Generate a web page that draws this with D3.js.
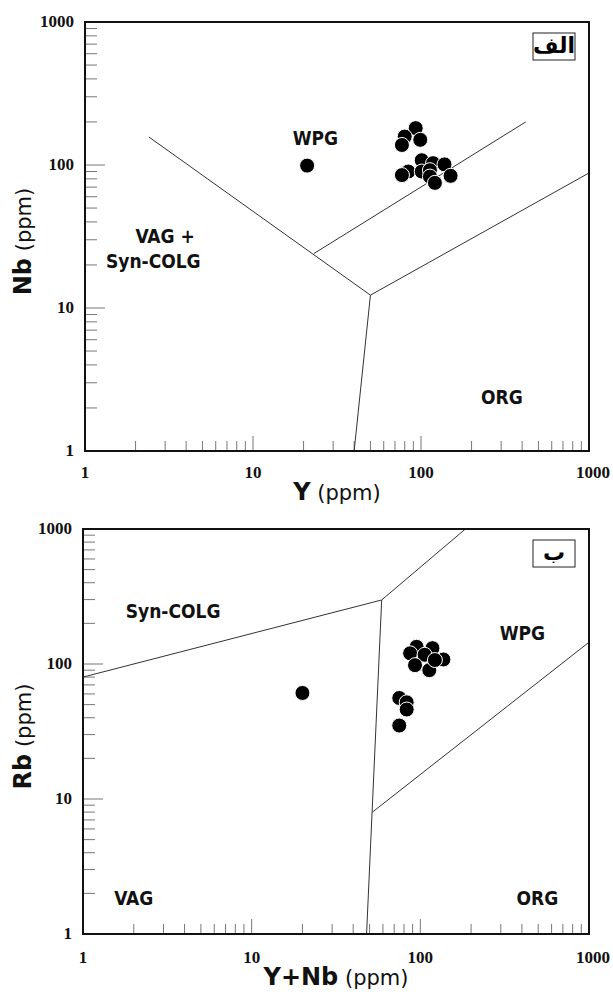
<!DOCTYPE html>
<html>
<head>
<meta charset="utf-8">
<script src="https://cdn.jsdelivr.net/npm/d3@7"></script>
<style>
  body { margin: 0; background: #fff; }
  svg { display: block; }
  .tick-label { font-family: "Liberation Serif", serif; font-weight: bold; font-size: 17px; fill: #111; }
  .field { font-family: "DejaVu Sans Condensed", "DejaVu Sans", sans-serif; font-weight: bold; font-size: 19px; fill: #111; }
  .title { font-family: "DejaVu Sans", sans-serif; fill: #111; }
</style>
</head>
<body>
<svg></svg>
<script>
// panel (a): Nb vs Y
let nbyPoints = [
  [21, 99], [93, 181], [80, 158], [99, 150], [77, 138],
  [101, 108], [118, 103], [138, 101], [84, 90], [77, 85],
  [101, 90], [113, 92], [113, 83], [121, 75], [150, 84]
];
let nbyLines = [
  [[2.4, 157], [50, 12.3], [40, 1]],
  [[50, 12.3], [1000, 88]],
  [[23, 24], [420, 200]]
];
let nbyFields = [
  { name: 'WPG', x: 23.5, y: 138 },
  { name: 'VAG +', x: 3.0, y: 28.5 },
  { name: 'Syn-COLG', x: 2.55, y: 19 },
  { name: 'ORG', x: 303, y: 2.13 }
];

// panel (b): Rb vs Y+Nb
let rbPoints = [
  [20, 61], [95, 134], [118, 131], [87, 120], [106, 117],
  [93, 98], [113, 90], [137, 108], [122, 107],
  [75, 56], [83, 52], [83, 46], [75, 35]
];
let rbLines = [
  [[1, 80], [59, 298], [185, 1000]],
  [[59, 298], [48, 1]],
  [[52, 8], [1000, 145]]
];
let rbFields = [
  { name: 'Syn-COLG', x: 3.42, y: 219 },
  { name: 'WPG', x: 403, y: 151 },
  { name: 'VAG', x: 2.0, y: 1.64 },
  { name: 'ORG', x: 494, y: 1.64 }
];

let tickValues = [1, 10, 100, 1000];

let w = 613;
let h = 996;
let svg = d3.select('svg').attr('width', w).attr('height', h);

let minorTicks = [];
[1, 10, 100].forEach(d => {
  for (let k = 2; k <= 9; k++) minorTicks.push(d * k);
});

let drawPanel = (cfg) => {
  let x = d3.scaleLog().domain([1, 1000]).range([cfg.left, cfg.right]);
  let y = d3.scaleLog().domain([1, 1000]).range([cfg.bottom, cfg.top]);
  let g = svg.append('g');

  // inner ticks
  g.selectAll('.xminor').data(minorTicks).enter().append('line')
   .attr('x1', d => x(d)).attr('x2', d => x(d))
   .attr('y1', cfg.bottom).attr('y2', cfg.bottom - 10)
   .attr('stroke', '#777').attr('stroke-width', 1);
  g.selectAll('.xmajor').data([10, 100]).enter().append('line')
   .attr('x1', d => x(d)).attr('x2', d => x(d))
   .attr('y1', cfg.bottom).attr('y2', cfg.bottom - 15)
   .attr('stroke', '#777').attr('stroke-width', 1);
  g.selectAll('.yminor').data(minorTicks).enter().append('line')
   .attr('y1', d => y(d)).attr('y2', d => y(d))
   .attr('x1', cfg.left).attr('x2', cfg.left + 12)
   .attr('stroke', '#777').attr('stroke-width', 1);
  g.selectAll('.ymajor').data([10, 100]).enter().append('line')
   .attr('y1', d => y(d)).attr('y2', d => y(d))
   .attr('x1', cfg.left).attr('x2', cfg.left + 20)
   .attr('stroke', '#777').attr('stroke-width', 1);

  // tick labels
  g.selectAll('.xl').data(tickValues).enter().append('text')
   .attr('class', 'tick-label')
   .attr('x', d => x(d) + (d === 1000 ? 4 : 0))
   .attr('y', cfg.bottom + cfg.xLabelGap)
   .attr('text-anchor', 'middle')
   .text(d => d);
  g.selectAll('.yl').data(tickValues).enter().append('text')
   .attr('class', 'tick-label')
   .attr('x', cfg.left - 11)
   .attr('y', d => y(d) + 5)
   .attr('text-anchor', 'end')
   .text(d => d);

  // field boundaries
  let line = d3.line().x(d => x(d[0])).y(d => y(d[1]));
  g.selectAll('.bound').data(cfg.lines).enter().append('path')
   .attr('d', line)
   .attr('fill', 'none')
   .attr('stroke', '#333')
   .attr('stroke-width', 1);

  // field names
  g.selectAll('.field').data(cfg.fields).enter().append('text')
   .attr('class', 'field')
   .attr('x', d => x(d.x))
   .attr('y', d => y(d.y))
   .attr('text-anchor', 'middle')
   .text(d => d.name);

  // samples
  g.selectAll('circle').data(cfg.points).enter().append('circle')
   .attr('cx', d => x(d[0]))
   .attr('cy', d => y(d[1]))
   .attr('r', 7.5)
   .attr('fill', '#000')
   .attr('stroke', '#fff')
   .attr('stroke-width', 1);

  // frame
  g.append('rect')
   .attr('x', cfg.left).attr('y', cfg.top)
   .attr('width', cfg.right - cfg.left).attr('height', cfg.bottom - cfg.top)
   .attr('fill', 'none').attr('stroke', '#111').attr('stroke-width', 2);

  // panel tag
  g.append('rect')
   .attr('x', cfg.right - 56).attr('y', cfg.top + 11)
   .attr('width', 42).attr('height', 27)
   .attr('fill', '#fff').attr('stroke', '#222').attr('stroke-width', 1);
  g.append('text')
   .attr('x', cfg.right - 35).attr('y', cfg.top + 31)
   .attr('text-anchor', 'middle')
   .style('font-family', '"DejaVu Sans", sans-serif')
   .style('font-weight', 'bold')
   .style('font-size', '22px')
   .text(cfg.tag);

  // axis titles
  let xt = g.append('text').attr('class', 'title')
   .attr('x', (cfg.left + cfg.right) / 2).attr('y', cfg.bottom + cfg.xTitleGap)
   .attr('text-anchor', 'middle');
  xt.append('tspan').style('font-weight', 'bold').style('font-size', '24px').text(cfg.xBold);
  xt.append('tspan').style('font-size', '21px').text(' (ppm)');

  let cy = (cfg.top + cfg.bottom) / 2 + 5;
  let yt = g.append('text').attr('class', 'title')
   .attr('transform', 'translate(' + 31 + ',' + cy + ') rotate(-90)')
   .attr('text-anchor', 'middle');
  yt.append('tspan').style('font-weight', 'bold').style('font-size', '24px').text(cfg.yBold);
  yt.append('tspan').style('font-size', '21px').text(' (ppm)');
};

drawPanel({
  left: 85, right: 589, top: 22, bottom: 451,
  points: nbyPoints, lines: nbyLines, fields: nbyFields,
  tag: 'الف', xBold: 'Y', yBold: 'Nb', xLabelGap: 27, xTitleGap: 49
});

drawPanel({
  left: 83, right: 589, top: 529, bottom: 934,
  points: rbPoints, lines: rbLines, fields: rbFields,
  tag: 'ب', xBold: 'Y+Nb', yBold: 'Rb', xLabelGap: 29, xTitleGap: 51
});
</script>
</body>
</html>
